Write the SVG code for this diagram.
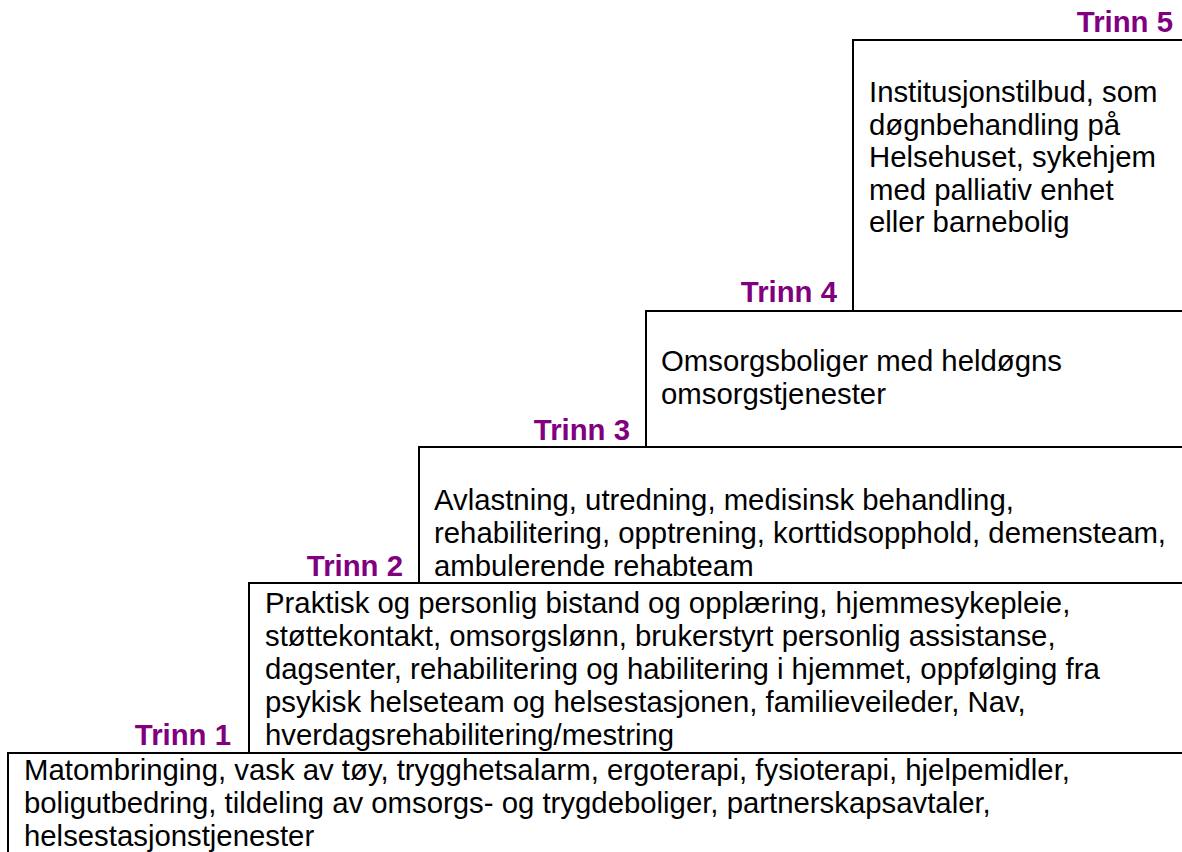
<svg xmlns="http://www.w3.org/2000/svg" width="1182" height="852" viewBox="0 0 1182 852">
<style>
.box{fill:#fff;stroke:#000;stroke-width:2}
.t{font-family:"Liberation Sans",Arial,sans-serif;font-size:29.33px;fill:#000}
.lbl{font-family:"Liberation Sans",Arial,sans-serif;font-size:29.33px;font-weight:bold;fill:#800080;text-anchor:end}
</style>
<rect width="1182" height="852" fill="#fff"/>
<g id="trinn5">
<rect class="box" x="853" y="40" width="360" height="271"/>
<text class="lbl" x="1173" y="32">Trinn 5</text>
<text class="t" x="869" y="102">Institusjonstilbud, som</text>
<text class="t" x="869" y="134.5">døgnbehandling på</text>
<text class="t" x="869" y="167">Helsehuset, sykehjem</text>
<text class="t" x="869" y="199.5">med palliativ enhet</text>
<text class="t" x="869" y="232">eller barnebolig</text>
</g>
<g id="trinn4">
<rect class="box" x="646" y="311" width="560" height="136"/>
<text class="lbl" x="837" y="302">Trinn 4</text>
<text class="t" x="661" y="371">Omsorgsboliger med heldøgns</text>
<text class="t" x="661" y="404">omsorgstjenester</text>
</g>
<g id="trinn3">
<rect class="box" x="419" y="447" width="800" height="136"/>
<text class="lbl" x="630" y="439.5">Trinn 3</text>
<text class="t" x="434" y="509.5">Avlastning, utredning, medisinsk behandling,</text>
<text class="t" x="434" y="542.5">rehabilitering, opptrening, korttidsopphold, demensteam,</text>
<text class="t" x="434" y="575.5">ambulerende rehabteam</text>
</g>
<g id="trinn2">
<rect class="box" x="249" y="583" width="950" height="170"/>
<text class="lbl" x="403" y="575.5">Trinn 2</text>
<text class="t" x="265" y="613">Praktisk og personlig bistand og opplæring, hjemmesykepleie,</text>
<text class="t" x="265" y="646">støttekontakt, omsorgslønn, brukerstyrt personlig assistanse,</text>
<text class="t" x="265" y="679">dagsenter, rehabilitering og habilitering i hjemmet, oppfølging fra</text>
<text class="t" x="265" y="712">psykisk helseteam og helsestasjonen, familieveileder, Nav,</text>
<text class="t" x="265" y="745">hverdagsrehabilitering/mestring</text>
</g>
<g id="trinn1">
<rect class="box" x="8" y="753" width="1200" height="140"/>
<text class="lbl" x="231" y="745">Trinn 1</text>
<text class="t" x="24" y="780">Matombringing, vask av tøy, trygghetsalarm, ergoterapi, fysioterapi, hjelpemidler,</text>
<text class="t" x="24" y="813">boligutbedring, tildeling av omsorgs- og trygdeboliger, partnerskapsavtaler,</text>
<text class="t" x="24" y="846">helsestasjonstjenester</text>
</g>
<g id="connectors"/>
</svg>
